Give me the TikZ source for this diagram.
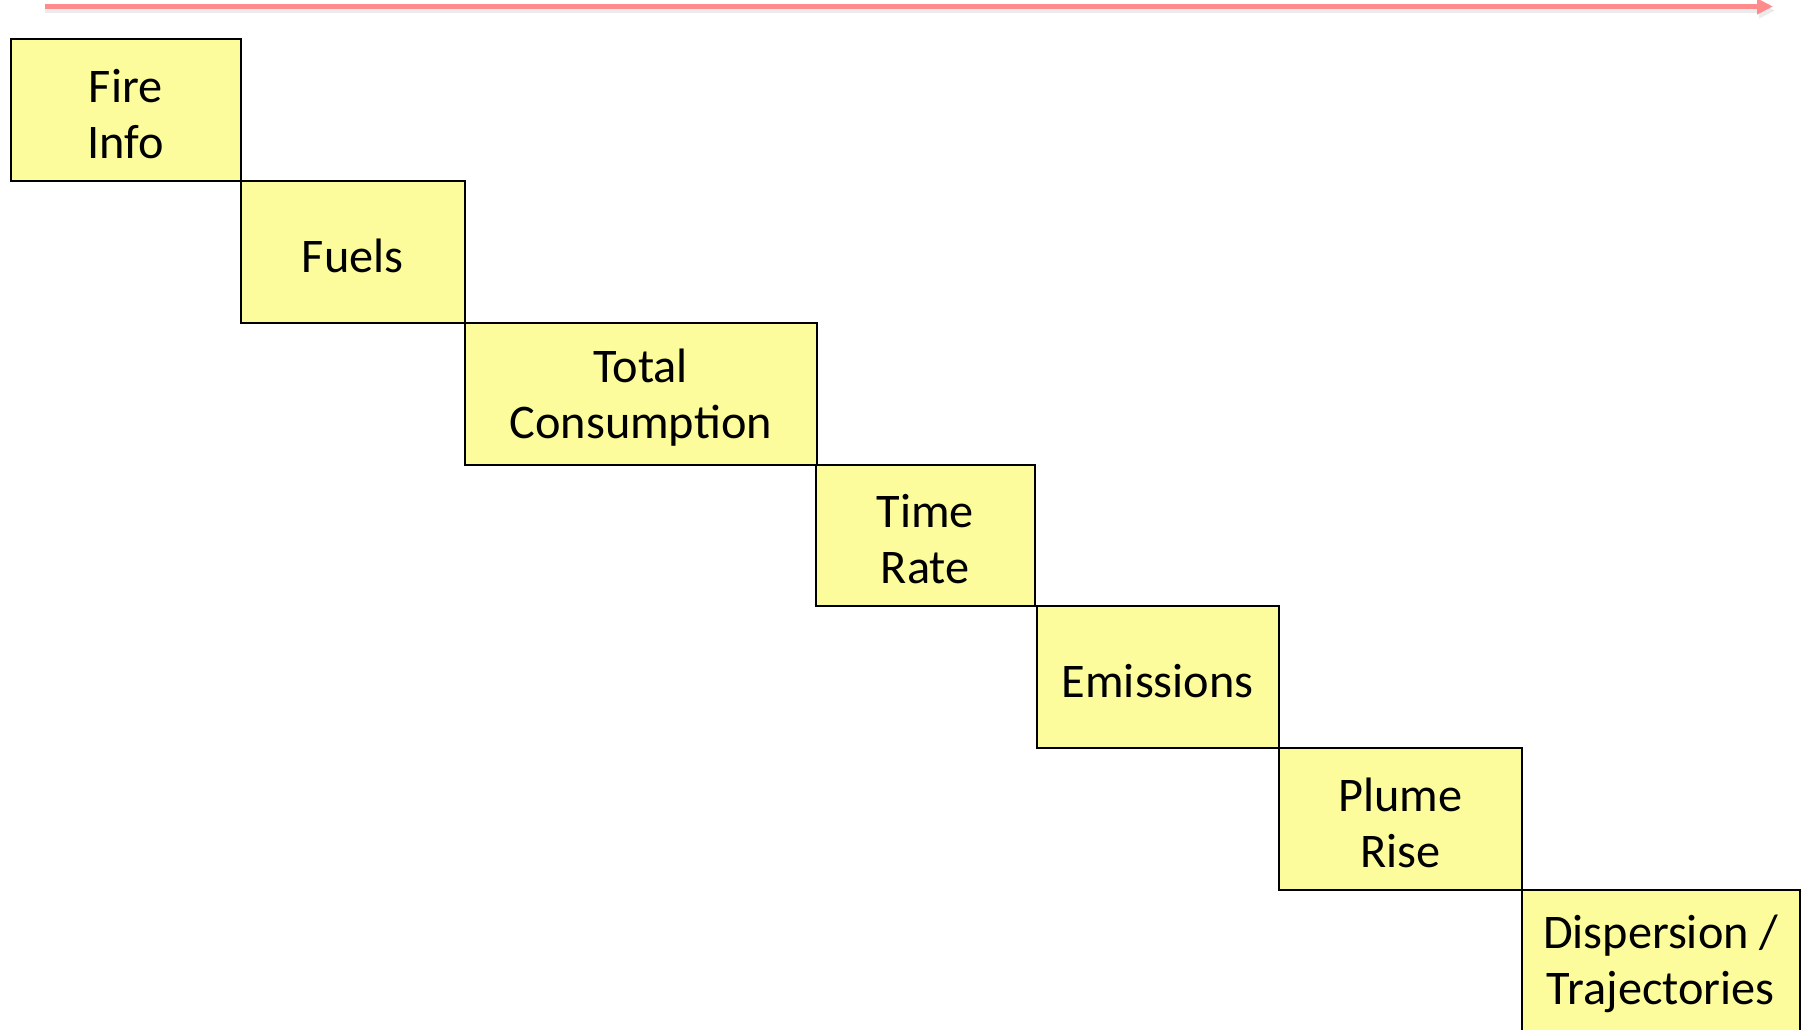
\documentclass[tikz,border=0pt]{standalone}
\usepackage{fontspec}
\setmainfont{Carlito}
\usetikzlibrary{arrows.meta}
\definecolor{boxfill}{HTML}{FCFC9C}
\definecolor{arrowred}{HTML}{FF8C8C}
\begin{document}
\begin{tikzpicture}[x=1pt,y=-1pt,
  stepbox/.style={draw=black, line width=1.5pt, fill=boxfill, inner sep=0pt, anchor=north west,
    label={[align=center, font=\fontsize{48.3}{56}\selectfont, inner sep=0pt, yshift=-4pt]center:#1}},
  timeline/.style={draw=arrowred, line width=5pt, -{Triangle[length=16pt,width=15pt]}},
  timeshadow/.style={draw=black!8, line width=5pt, -{Triangle[length=16pt,width=15pt]}}]
\useasboundingbox (0,0) rectangle (1805,1029);
\fill[white] (0,0) rectangle (1805,1029);
% timeline arrow
\coordinate (as) at (45,6.5);
\coordinate (ae) at (1773,6.5);
\coordinate (ass) at (45,10.5);
\coordinate (aes) at (1775,10.5);
\draw[timeshadow] (ass) -- (aes);
\draw[timeline] (as) -- (ae);
% steps
\node[stepbox={Fire\\Info}, minimum width=230pt, minimum height=142pt] (fire) at (10,38) {};
\node[stepbox={Fuels}, minimum width=224pt, minimum height=142pt] (fuels) at (240,180) {};
\node[stepbox={Total\\Consumption}, minimum width=352pt, minimum height=142pt] (total) at (464,322) {};
\node[stepbox={Time\\Rate}, minimum width=219pt, minimum height=141pt] (time) at (815,464) {};
\node[stepbox={Emissions}, minimum width=242pt, minimum height=142pt] (emis) at (1036,605) {};
\node[stepbox={Plume\\Rise}, minimum width=243pt, minimum height=142pt] (plume) at (1278,747) {};
\node[stepbox={Dispersion /\\Trajectories}, minimum width=278pt, minimum height=141pt] (disp) at (1521,889) {};
\end{tikzpicture}
\end{document}
